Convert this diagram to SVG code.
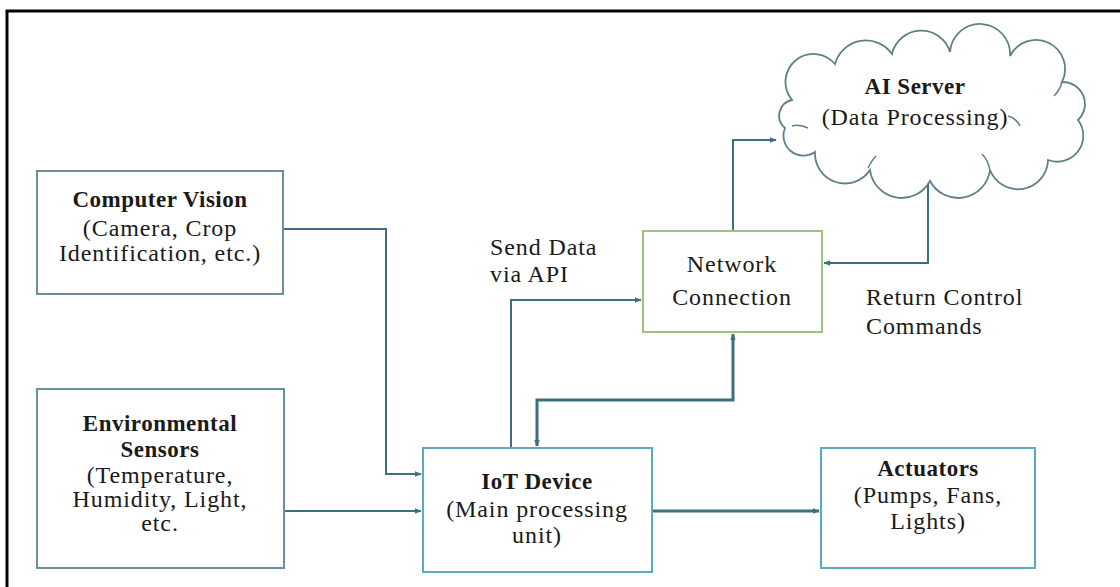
<svg xmlns="http://www.w3.org/2000/svg" width="1120" height="587" viewBox="0 0 1120 587">
  <style>
    text { font-size: 24px; fill: #1a1a1a; text-anchor: middle; letter-spacing: 0.9px; }
    .b { font-weight: bold; font-size: 23px; letter-spacing: 0.5px; }
    .l { text-anchor: start; }
    .box { fill: #ffffff; stroke-width: 2; }
    .gray { stroke: #6a8f9c; }
    .cyan { stroke: #5aaac4; }
    .green { stroke: #9cc47f; }
    .wire { fill: none; stroke: #3e6f7f; stroke-width: 2; }
    .wire2 { fill: none; stroke: #3e6f7f; stroke-width: 3; }
  </style>
  <defs>
    <marker id="ah" viewBox="0 0 10 10" refX="9" refY="5" markerWidth="7" markerHeight="7" orient="auto-start-reverse" markerUnits="userSpaceOnUse">
      <path d="M0,1 L10,5 L0,9 z" fill="#3e6f7f"/>
    </marker>
  </defs>

  <rect width="1120" height="587" fill="#ffffff"/>
  <!-- page frame (open to the right and bottom) -->
  <path d="M7,600 V11 H1130" fill="none" stroke="#000" stroke-width="3"/>

  <g id="connectors">
    <path class="wire" d="M283,229 H386 V474 H421" marker-end="url(#ah)"/>
    <path class="wire" d="M284,511 H421" marker-end="url(#ah)"/>
    <path class="wire2" d="M652,511 H819" marker-end="url(#ah)"/>
    <path class="wire" d="M511,448 V300 H641" marker-end="url(#ah)"/>
    <path class="wire2" d="M537,446 V400 H733 V334" marker-start="url(#ah)" marker-end="url(#ah)"/>
    <path class="wire" d="M733,231 V140 H776" marker-end="url(#ah)"/>
    <path class="wire" d="M928,181 V263 H824" marker-end="url(#ah)"/>
  </g>

  <g id="computer-vision">
    <rect class="box gray" x="37" y="171" width="246" height="123"/>
    <text class="b" x="160" y="207" font-family="Liberation Serif">Computer Vision</text>
    <text x="160" y="236" font-family="Liberation Serif">(Camera, Crop</text>
    <text x="160" y="261" font-family="Liberation Serif">Identification, etc.)</text>
  </g>

  <g id="environmental-sensors">
    <rect class="box gray" x="37" y="389" width="247" height="179"/>
    <text class="b" x="160" y="431" font-family="Liberation Serif">Environmental</text>
    <text class="b" x="160" y="457" font-family="Liberation Serif">Sensors</text>
    <text x="160" y="483" font-family="Liberation Serif">(Temperature,</text>
    <text x="160" y="507" font-family="Liberation Serif">Humidity, Light,</text>
    <text x="160" y="531" font-family="Liberation Serif">etc.</text>
  </g>

  <g id="iot-device">
    <rect class="box cyan" x="423" y="448" width="229" height="124"/>
    <text class="b" x="537" y="489" font-family="Liberation Serif">IoT Device</text>
    <text x="537" y="517" font-family="Liberation Serif">(Main processing</text>
    <text x="537" y="543" font-family="Liberation Serif">unit)</text>
  </g>

  <g id="actuators">
    <rect class="box cyan" x="821" y="448" width="214" height="120"/>
    <text class="b" x="928" y="476" font-family="Liberation Serif">Actuators</text>
    <text x="928" y="503" font-family="Liberation Serif">(Pumps, Fans,</text>
    <text x="928" y="529" font-family="Liberation Serif">Lights)</text>
  </g>

  <g id="network-connection">
    <rect class="box green" x="643" y="231" width="179" height="101"/>
    <text x="732" y="272" font-family="Liberation Serif">Network</text>
    <text x="732" y="305" font-family="Liberation Serif">Connection</text>
  </g>

  <g id="ai-server">
    <path fill="#ffffff" stroke="#5f7f88" stroke-width="1.8" d="M792,100 A24,24 0 0 1 835,64 A32,32 0 0 1 892,54 A30,30 0 0 1 950,52 A30,30 0 0 1 1010,56 A28,28 0 0 1 1062,82 A22,22 0 0 1 1078,120 A26,26 0 0 1 1048,160 A30,30 0 0 1 990,170 A32,32 0 0 1 930,181 A32,32 0 0 1 870,170 A30,30 0 0 1 815,152 A20,20 0 0 1 785,128 A16,16 0 0 1 792,100 Z"/>
    <path fill="none" stroke="#5f7f88" stroke-width="1.5" d="M792,126 Q800,124 808,128 M1008,116 Q1016,118 1020,126 M868,168 Q872,160 876,156 M990,170 Q988,160 982,154 M1062,82 Q1060,90 1054,96"/>
    <text class="b" x="915" y="94" font-family="Liberation Serif">AI Server</text>
    <text x="915" y="125" font-family="Liberation Serif">(Data Processing)</text>
  </g>

  <g id="labels">
    <text class="l" x="490" y="255" font-family="Liberation Serif">Send Data</text>
    <text class="l" x="490" y="282" font-family="Liberation Serif">via API</text>
    <text class="l" x="866" y="305" font-family="Liberation Serif">Return Control</text>
    <text class="l" x="866" y="334" font-family="Liberation Serif">Commands</text>
  </g>
</svg>
